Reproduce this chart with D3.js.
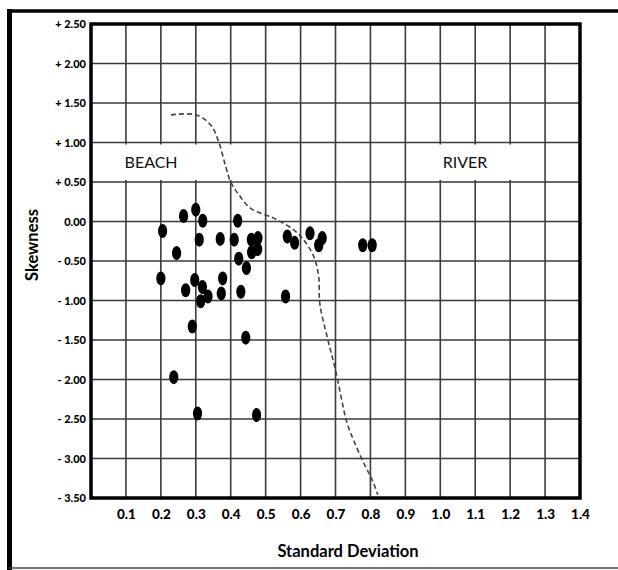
<!DOCTYPE html>
<html>
<head>
<meta charset="utf-8">
<script src="https://cdn.jsdelivr.net/npm/d3@7"></script>
<style>
  html, body { margin: 0; padding: 0; background: #fff; }
  svg { display: block; }
  text { font-family: Lato, "Open Sans", sans-serif; }
</style>
</head>
<body>
<svg id="chart" width="618" height="570"></svg>
<script>
// ---- data ----
const sampleSD = [0.30, 0.265, 0.32, 0.205, 0.42, 0.31, 0.37, 0.41, 0.459, 0.478, 0.46, 0.477,
  0.562, 0.583, 0.627, 0.662, 0.652, 0.245, 0.423, 0.445, 0.20, 0.377, 0.297, 0.271, 0.319,
  0.373, 0.429, 0.335, 0.314, 0.557, 0.29, 0.443, 0.237, 0.305, 0.474, 0.778, 0.805];
const sampleSkew = [0.15, 0.07, 0.01, -0.12, 0.01, -0.23, -0.22, -0.23, -0.23, -0.21, -0.39, -0.35,
  -0.19, -0.27, -0.15, -0.21, -0.30, -0.40, -0.47, -0.59, -0.72, -0.72, -0.74, -0.87, -0.83,
  -0.91, -0.89, -0.95, -1.01, -0.95, -1.33, -1.47, -1.97, -2.43, -2.45, -0.30, -0.30];

const boundarySD = [0.229, 0.300, 0.343, 0.367, 0.386, 0.40, 0.424, 0.457, 0.524, 0.581, 0.609,
  0.638, 0.652, 0.655, 0.676, 0.70, 0.733, 0.752, 0.781, 0.805, 0.821];
const boundarySkew = [1.35, 1.35, 1.22, 0.99, 0.69, 0.50, 0.335, 0.167, 0.04, -0.108, -0.234,
  -0.446, -0.70, -1.035, -1.458, -1.88, -2.55, -2.77, -3.06, -3.27, -3.46];

const xTicks = [0.1, 0.2, 0.3, 0.4, 0.5, 0.6, 0.7, 0.8, 0.9, 1.0, 1.1, 1.2, 1.3, 1.4];
const xTickLabels = ["0.1", "0.2", "0.3", "0.4", "0.5", "0.6", "0.7", "0.8", "0.9", "1.0", "1.1", "1.2", "1.3", "1.4"];
const yTicks = [2.5, 2.0, 1.5, 1.0, 0.5, 0.0, -0.5, -1.0, -1.5, -2.0, -2.5, -3.0, -3.5];
const yTickLabels = ["+ 2.50", "+ 2.00", "+ 1.50", "+ 1.00", "+ 0.50", "0.00", "- 0.50", "- 1.00",
  "- 1.50", "- 2.00", "- 2.50", "- 3.00", "- 3.50"];

const regionLabels = ["BEACH", "RIVER"];
const regionSD = [0.172, 1.071];
const regionSkew = [0.75, 0.75];

// ---- layout ----
const svg = d3.select("#chart");
const L = 91, R = 580, T = 24, B = 498;
const x = d3.scaleLinear().domain([0, 1.4]).range([L, R]);
const y = d3.scaleLinear().domain([-3.5, 2.5]).range([B, T]);

// outer frame
svg.append("line").attr("x1", 9.5).attr("x2", 9.5).attr("y1", 9).attr("y2", 570)
  .attr("stroke", "#000").attr("stroke-width", 5);
svg.append("line").attr("x1", 7).attr("x2", 618).attr("y1", 11).attr("y2", 11)
  .attr("stroke", "#000").attr("stroke-width", 3.5);
svg.append("line").attr("x1", 9).attr("x2", 618).attr("y1", 568).attr("y2", 568)
  .attr("stroke", "#444").attr("stroke-width", 1.5);

// grid
const grid = svg.append("g");
grid.selectAll(".vg").data(xTicks.filter(d => d < 1.4)).enter().append("line")
  .attr("x1", d => x(d)).attr("x2", d => x(d)).attr("y1", T).attr("y2", B)
  .attr("stroke", "#3a3a3a").attr("stroke-width", 1.6);
grid.selectAll(".hg").data(yTicks.filter(d => d < 2.5 && d > -3.5)).enter().append("line")
  .attr("x1", L).attr("x2", R).attr("y1", d => y(d)).attr("y2", d => y(d))
  .attr("stroke", "#3a3a3a").attr("stroke-width", 1.6);

// label boxes (white, hide vertical grid lines)
svg.append("rect").attr("x", L + 2).attr("y", y(1.0) + 2).attr("width", x(0.445) - L - 2)
  .attr("height", y(0.5) - y(1.0) - 4).attr("fill", "#fff");
svg.append("rect").attr("x", x(0.92)).attr("y", y(1.0) + 2).attr("width", x(1.28) - x(0.92))
  .attr("height", y(0.5) - y(1.0) - 4).attr("fill", "#fff");

svg.selectAll(".region").data(regionLabels).enter().append("text")
  .attr("x", (d, i) => x(regionSD[i])).attr("y", (d, i) => y(regionSkew[i]) + 6)
  .attr("text-anchor", "middle").attr("font-size", 16).attr("fill", "#111")
  .text(d => d);

// boundary dashed curve
const pts = boundarySD.map((d, i) => [x(d), y(boundarySkew[i])]);
svg.append("path").datum(pts)
  .attr("d", d3.line().curve(d3.curveCatmullRom.alpha(0.5)))
  .attr("fill", "none").attr("stroke", "#444").attr("stroke-width", 1.6)
  .attr("stroke-dasharray", "5,3");

// points
svg.selectAll(".pt").data(sampleSD).enter().append("ellipse")
  .attr("cx", d => x(d)).attr("cy", (d, i) => y(sampleSkew[i]))
  .attr("rx", 4.6).attr("ry", 7).attr("fill", "#000");

// plot border
svg.append("rect").attr("x", L).attr("y", T).attr("width", R - L).attr("height", B - T)
  .attr("fill", "none").attr("stroke", "#000").attr("stroke-width", 3.5);

// axes
const yAxis = d3.axisLeft(y).tickValues(yTicks).tickSize(0).tickPadding(5)
  .tickFormat((d, i) => yTickLabels[i]);
const gy = svg.append("g").attr("transform", `translate(${L},0)`).call(yAxis);
gy.select(".domain").remove();
gy.selectAll("text").attr("font-family", "Lato, sans-serif").attr("font-weight", "900")
  .attr("font-size", 11).attr("fill", "#000");

const xAxis = d3.axisBottom(x).tickValues(xTicks).tickSize(0).tickPadding(11)
  .tickFormat((d, i) => xTickLabels[i]);
const gx = svg.append("g").attr("transform", `translate(0,${B})`).call(xAxis);
gx.select(".domain").remove();
gx.selectAll("text").attr("font-family", "Lato, sans-serif").attr("font-weight", "900")
  .attr("font-size", 13.5).attr("fill", "#000");

// axis titles
svg.append("text").attr("x", 348).attr("y", 557).attr("text-anchor", "middle")
  .attr("font-weight", "bold").attr("font-size", 16.5).attr("fill", "#000")
  .text("Standard Deviation");
svg.append("text").attr("transform", "translate(38,245) rotate(-90)").attr("text-anchor", "middle")
  .attr("font-weight", "bold").attr("font-size", 16.5).attr("fill", "#000")
  .text("Skewness");
</script>
</body>
</html>
